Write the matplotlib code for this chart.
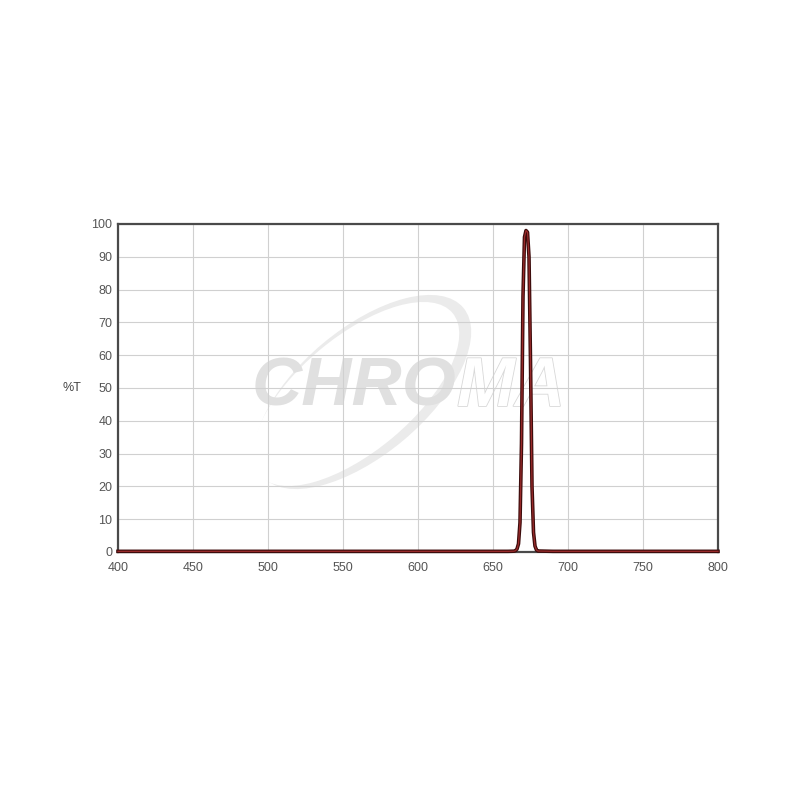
import matplotlib
matplotlib.use('Agg')
import matplotlib.pyplot as plt
from matplotlib.patches import Ellipse
import matplotlib.patheffects as pe

# transmission curve (wavelength nm, %T)
wavelength = [400, 500, 600, 650, 660, 664, 665, 666, 667, 668, 669, 670, 671,
              672, 673, 674, 675, 676, 677, 678, 679, 680, 690, 700, 750, 800]
transmission = [0.2, 0.2, 0.2, 0.2, 0.2, 0.25, 0.4, 0.9, 2.5, 9, 33, 78, 96,
                98, 97.5, 90, 58, 20, 6, 1.8, 0.6, 0.3, 0.2, 0.2, 0.2, 0.2]

x_ticks = [400, 450, 500, 550, 600, 650, 700, 750, 800]
y_ticks = [0, 10, 20, 30, 40, 50, 60, 70, 80, 90, 100]

plt.rcParams['font.family'] = ['Liberation Sans', 'DejaVu Sans']

fig = plt.figure(figsize=(8, 8), dpi=100)
fig.patch.set_facecolor('white')
ax = fig.add_axes([0.1475, 0.31, 0.75, 0.41])

# watermark (behind the grid), ring placed in figure inches
ring = Ellipse((3.63, 4.08), 2.62, 1.26, angle=40, transform=fig.dpi_scale_trans,
               facecolor='#ebebeb', edgecolor='none', zorder=0.1)
hole = Ellipse((3.56, 4.06), 2.52, 1.14, angle=40, transform=fig.dpi_scale_trans,
               facecolor='white', edgecolor='none', zorder=0.15)
ax.add_patch(ring)
ax.add_patch(hole)
ax.text(0.223, 0.50, 'CHRO', transform=ax.transAxes, fontsize=50, fontweight='bold',
        fontstyle='italic', color='#e0e0e0', ha='left', va='center', zorder=0.2)
ax.text(0.565, 0.50, 'MA', transform=ax.transAxes, fontsize=50, fontweight='bold',
        fontstyle='italic', color='white', ha='left', va='center', zorder=0.2,
        path_effects=[pe.withStroke(linewidth=1.2, foreground='#d8d8d8')])

ax.plot(wavelength, transmission, color='#3d0c0c', lw=2.6, zorder=3,
        solid_joinstyle='round', clip_on=False)
ax.plot(wavelength, transmission, color='#9a2a2a', lw=0.9, zorder=4,
        solid_joinstyle='round', clip_on=False)

ax.set_xlim(400, 800)
ax.set_ylim(0, 100)
ax.set_xticks(x_ticks)
ax.set_yticks(y_ticks)
ax.set_axisbelow(True)
ax.grid(True, color='#d0d0d0', lw=0.8)
ax.tick_params(axis='y', length=0, labelsize=9, labelcolor='#555555', pad=4)
ax.tick_params(axis='x', length=0, labelsize=9, labelcolor='#555555', pad=7)
for s in ax.spines.values():
    s.set_color('#4a4a4a')
    s.set_linewidth(1.6)
ax.set_ylabel('%T', rotation=0, fontsize=9, color='#444444', labelpad=14, va='center')

fig.savefig('out.png', dpi=100, facecolor='white')
